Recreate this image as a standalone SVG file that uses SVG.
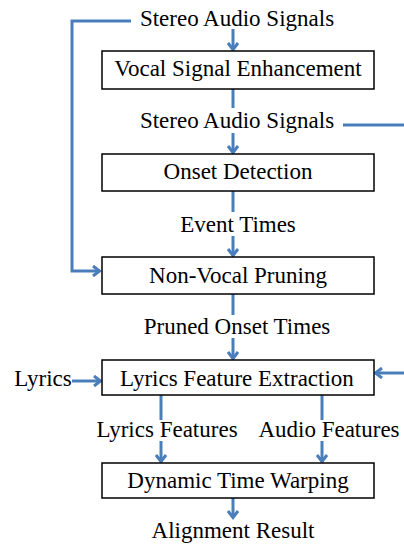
<svg xmlns="http://www.w3.org/2000/svg" width="404" height="547" viewBox="0 0 404 547">
<defs>
<style>
.t{font-family:'Liberation Serif','Times New Roman','DejaVu Serif',serif;font-size:23px;fill:#000;text-anchor:middle}
.box{fill:#fff;stroke:#000;stroke-width:1.5}
.c{fill:none;stroke:#4a7ebb;stroke-width:3}
</style>
<marker id="a" viewBox="0 0 10 12" markerWidth="10" markerHeight="12" refX="8.5" refY="6" orient="auto" markerUnits="userSpaceOnUse">
<path d="M1.5,1 L8,6 L1.5,11" fill="none" stroke="#4a7ebb" stroke-width="3"/>
</marker>
</defs>
<g id="connectors">
<path class="c" d="M233,29 V50" marker-end="url(#a)"/>
<path class="c" d="M131,21 H72 V271 H100" marker-end="url(#a)"/>
<path class="c" d="M233,89 V108"/>
<path class="c" d="M343,125 H404"/>
<path class="c" d="M233,133 V153" marker-end="url(#a)"/>
<path class="c" d="M233,191 V212"/>
<path class="c" d="M233,236 V256" marker-end="url(#a)"/>
<path class="c" d="M233,294 V315"/>
<path class="c" d="M233,338 V359" marker-end="url(#a)"/>
<path class="c" d="M72,381 H101" marker-end="url(#a)"/>
<path class="c" d="M404,373 H375" marker-end="url(#a)"/>
<path class="c" d="M161,395 V420"/>
<path class="c" d="M322,395 V420"/>
<path class="c" d="M161,441 V462" marker-end="url(#a)"/>
<path class="c" d="M322,441 V462" marker-end="url(#a)"/>
<path class="c" d="M233,498 V518" marker-end="url(#a)"/>
</g>
<g class="t" font-family="'Liberation Serif', serif">
<g id="label-stereo-in"><text x="237" y="26">Stereo Audio Signals</text></g>
<g id="node-vse"><rect class="box" x="102" y="51" width="272" height="38"/><text x="238" y="76">Vocal Signal Enhancement</text></g>
<g id="label-stereo-out"><text x="237" y="128">Stereo Audio Signals</text></g>
<g id="node-onset"><rect class="box" x="102" y="154" width="272" height="37"/><text x="238" y="179">Onset Detection</text></g>
<g id="label-event"><text x="238" y="232">Event Times</text></g>
<g id="node-nvp"><rect class="box" x="102" y="257" width="272" height="37"/><text x="238" y="283">Non-Vocal Pruning</text></g>
<g id="label-pruned"><text x="237" y="334">Pruned Onset Times</text></g>
<g id="node-lfe"><rect class="box" x="102" y="360" width="272" height="35"/><text x="237" y="386">Lyrics Feature Extraction</text></g>
<g id="label-lyrics"><text x="43" y="386">Lyrics</text></g>
<g id="label-lyrics-features"><text x="167" y="437">Lyrics Features</text></g>
<g id="label-audio-features"><text x="329" y="437">Audio Features</text></g>
<g id="node-dtw"><rect class="box" x="102" y="463" width="272" height="35"/><text x="238" y="488">Dynamic Time Warping</text></g>
<g id="label-result"><text x="233" y="538">Alignment Result</text></g>
</g>
</svg>
